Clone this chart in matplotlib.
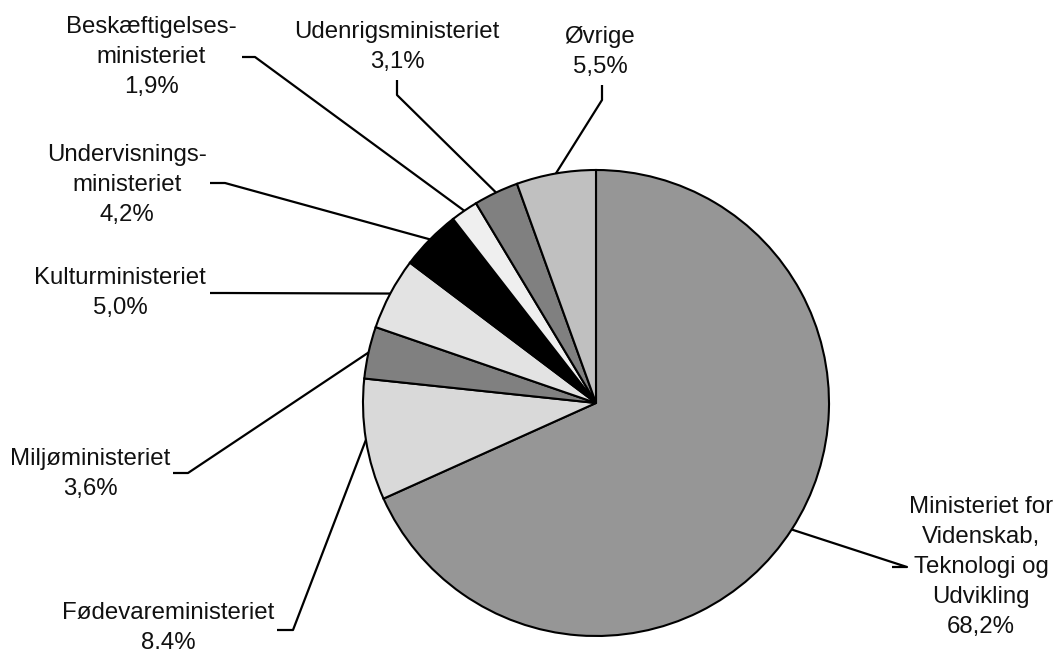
import matplotlib
matplotlib.use("Agg")
import matplotlib.pyplot as plt
import numpy as np

# ---- data ----
categories = [
    "Ministeriet for\nVidenskab,\nTeknologi og\nUdvikling",
    "Fødevareministeriet",
    "Miljøministeriet",
    "Kulturministeriet",
    "Undervisnings-\nministeriet",
    "Beskæftigelses-\nministeriet",
    "Udenrigsministeriet",
    "Øvrige",
]
values = [68.2, 8.4, 3.6, 5.0, 4.2, 1.9, 3.1, 5.5]
value_labels = ["68,2%", "8.4%", "3,6%", "5,0%", "4,2%", "1,9%", "3,1%", "5,5%"]
colors = ["#969696", "#d9d9d9", "#808080", "#e3e3e3", "#000000", "#efefef", "#808080", "#c0c0c0"]

# ---- layout (pixel positions of label block centres and leader elbows) ----
W, H = 1057, 653
CX, CY, R = 596, 403, 233
label_pos = [(981, 567), (168, 628), (90, 474), (120, 293), (127, 185), (151, 57), (397, 47), (600, 52)]
leader_start = [(892, 567), (277, 630), (173, 473), (210, 293), (210, 183), (242, 57), (397, 80), (602, 85)]
leader_elbow = [(907, 567), (293, 630), (188, 473), (225, 293), (225, 183), (255, 57), (397, 95), (602, 100)]


def px2d(p):
    return ((p[0] - CX) / R, (CY - p[1]) / R)


plt.rcParams['font.family'] = ['Liberation Sans', 'DejaVu Sans']
fig = plt.figure(figsize=(W / 100, H / 100), dpi=100)
ax = fig.add_axes([0, 0, 1, 1])
ax.set_aspect('equal')
ax.axis('off')

wedges, _ = ax.pie(values, colors=colors, startangle=90, counterclock=False,
                   radius=1.0, center=(0, 0),
                   wedgeprops=dict(edgecolor='black', linewidth=1.5))
ax.set_xlim(-CX / R, (W - CX) / R)
ax.set_ylim(-(H - CY) / R, CY / R)

for i, w in enumerate(wedges):
    mid = np.deg2rad((w.theta1 + w.theta2) / 2)
    ex, ey = np.cos(mid), np.sin(mid)
    sx, sy = px2d(leader_start[i])
    bx, by = px2d(leader_elbow[i])
    ax.plot([sx, bx, ex], [sy, by, ey], color='black', lw=1.6, solid_capstyle='butt', zorder=3)
    lx, ly = px2d(label_pos[i])
    ax.text(lx, ly, categories[i] + "\n" + value_labels[i], ha='center', va='center',
            multialignment='center', fontsize=17.3, linespacing=1.47, color='#111111')

fig.savefig("out.png", dpi=100, facecolor='white')
